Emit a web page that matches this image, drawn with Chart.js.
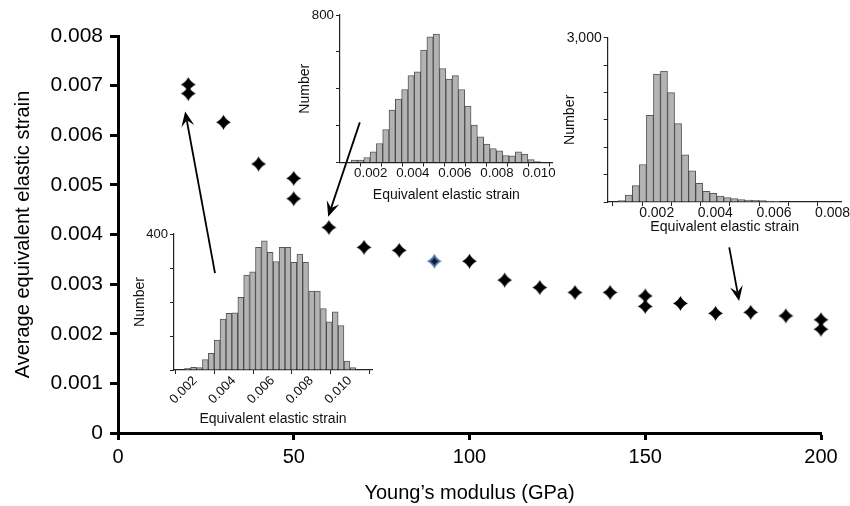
<!DOCTYPE html>
<html><head><meta charset="utf-8">
<script src="https://cdn.jsdelivr.net/npm/chart.js@4.4.1/dist/chart.umd.min.js"></script>
<style>
html,body{margin:0;padding:0;background:#fff;}
#wrap{position:relative;width:850px;height:506px;overflow:hidden;background:#fff;}
#wrap canvas{position:absolute;}
</style></head><body>
<div id="wrap">
<canvas id="main" width="850" height="506" style="left:0;top:0"></canvas>
<canvas id="h1" width="260" height="225" style="left:125px;top:210px"></canvas>
<canvas id="h2" width="275" height="205" style="left:290px;top:0"></canvas>
<canvas id="h3" width="305" height="240" style="left:555px;top:0"></canvas>
</div>
<script>
// ---- main scatter data ----
const modulus = [20,20,30,40,50,50,60,70,80,100,110,120,130,140,150,150,160,170,180,190,200,200];
const strain  = [0.00702,0.00684,0.00626,0.00542,0.00513,0.00472,0.00414,0.00374,0.00368,0.00346,0.00308,0.00293,0.00283,0.00283,0.00276,0.00255,0.00261,0.00241,0.00243,0.00236,0.00228,0.00209];
const highlightModulus = [90];
const highlightStrain  = [0.00346];
const xTickStep = 50;
const yTickStep = 0.001;

// ---- inset histograms ----
const hist1Centers = [0.00161,0.00192,0.00222,0.00253,0.00283,0.00314,0.00344,0.00375,0.00405,0.00436,0.00466,0.00497,0.00527,0.00558,0.00588,0.00619,0.00649,0.00680,0.00710,0.00741,0.00771,0.00802,0.00832,0.00863,0.00893,0.00924,0.00954,0.00985,0.01015];
const hist1Counts  = [5,8,7,31,49,88,150,167,168,214,279,289,361,380,346,319,361,361,317,341,317,232,232,181,142,171,131,26,7];
const hist1XTicks = [0.002,0.004,0.006,0.008,0.010];
const hist1YTicks = [0,100,200,300,400];

const hist2Centers = [0.00122,0.00152,0.00182,0.00212,0.00242,0.00272,0.00302,0.00332,0.00362,0.00392,0.00422,0.00452,0.00482,0.00512,0.00542,0.00572,0.00602,0.00632,0.00662,0.00692,0.00722,0.00752,0.00782,0.00812,0.00842,0.00872,0.00902,0.00932,0.00962,0.00992];
const hist2Counts  = [13,13,27,58,103,179,284,344,396,472,492,610,682,697,510,452,471,396,306,203,139,100,76,63,38,36,58,45,16,5];
const hist2XTicks = [0.001,0.002,0.003,0.004,0.005,0.006,0.007,0.008,0.009,0.010];
const hist2YTicks = [0,200,400,600,800];

const hist3Centers = [0.00081,0.00105,0.00129,0.00153,0.00177,0.00201,0.00225,0.00249,0.00273,0.00297,0.00321,0.00345,0.00369,0.00393,0.00417,0.00441,0.00465,0.00489,0.00513,0.00537,0.00561,0.00585,0.00609];
const hist3Counts  = [24,128,300,684,1582,2334,2389,1998,1430,861,568,342,196,159,110,79,61,43,37,31,24,18,12];
const hist3XTicks = [0.001,0.002,0.003,0.004,0.005,0.006,0.007,0.008];
const hist3YTicks = [0,500,1000,1500,2000,2500,3000];

// arrows in main-chart data units: [tailX, tailY, tipX, tipY]
const arrows = [
  [27.6, 0.00322, 19.1, 0.00648],
  [68.8, 0.00626, 59.8, 0.00436],
  [173.9, 0.00374, 176.7, 0.00266]
];

const FONT = "'Liberation Sans', Arial, Helvetica, sans-serif";

function starImage(fill, inner){
  const s = 17, c = document.createElement('canvas');
  c.width = s; c.height = s;
  const g = c.getContext('2d');
  const m = s/2, r = 7.4, k = 2.4;
  const path = (rr, kk) => {
    g.beginPath();
    g.moveTo(m, m-rr);
    g.quadraticCurveTo(m+kk, m-kk, m+rr, m);
    g.quadraticCurveTo(m+kk, m+kk, m, m+rr);
    g.quadraticCurveTo(m-kk, m+kk, m-rr, m);
    g.quadraticCurveTo(m-kk, m-kk, m, m-rr);
    g.closePath();
  };
  path(r, k); g.fillStyle = fill; g.fill();
  if (inner){ path(4, 1.4); g.fillStyle = inner; g.fill(); }
  return c;
}
const blackStar = starImage('#000');
const blueStar = starImage('#4f75b8', '#141a28');

const arrowPlugin = {
  id: 'arrows',
  afterDatasetsDraw(chart){
    const {ctx, scales:{x, y}} = chart;
    ctx.save();
    ctx.strokeStyle = '#000'; ctx.fillStyle = '#000'; ctx.lineWidth = 1.8;
    arrows.forEach(a => {
      const x1 = x.getPixelForValue(a[0]), y1 = y.getPixelForValue(a[1]);
      const x2 = x.getPixelForValue(a[2]), y2 = y.getPixelForValue(a[3]);
      const ang = Math.atan2(y2-y1, x2-x1);
      const L = 15, W = 6.5, N = 9;
      const ux = Math.cos(ang), uy = Math.sin(ang);
      const nx = x2 - ux*N, ny = y2 - uy*N;
      ctx.beginPath(); ctx.moveTo(x1, y1); ctx.lineTo(nx, ny); ctx.stroke();
      ctx.beginPath();
      ctx.moveTo(x2, y2);
      ctx.lineTo(x2 - ux*L - uy*W, y2 - uy*L + ux*W);
      ctx.lineTo(nx, ny);
      ctx.lineTo(x2 - ux*L + uy*W, y2 - uy*L - ux*W);
      ctx.closePath(); ctx.fill();
    });
    ctx.restore();
  }
};

new Chart(document.getElementById('main'), {
  type: 'scatter',
  data: { datasets: [
    { data: modulus.map((v,i)=>({x:v, y:strain[i]})), pointStyle: blackStar, pointRadius: 8, pointHoverRadius: 8, clip: false },
    { data: highlightModulus.map((v,i)=>({x:v, y:highlightStrain[i]})), pointStyle: blueStar, pointRadius: 8, pointHoverRadius: 8, clip: false }
  ]},
  options: {
    responsive: false, animation: false, devicePixelRatio: 1,
    layout: { padding: { left: 0, top: 36, right: 29, bottom: 0 } },
    plugins: { legend: { display: false }, tooltip: { enabled: false } },
    scales: {
      x: {
        type: 'linear', min: 0, max: 200,
        ticks: { stepSize: xTickStep, color: '#000', font: { family: FONT, size: 20 }, padding: 5 },
        grid: { drawOnChartArea: false, drawTicks: true, tickLength: 7, tickWidth: 3, tickColor: '#000' },
        border: { display: true, color: '#000', width: 3 },
        title: { display: true, text: 'Young\u2019s modulus (GPa)', color: '#000', font: { family: FONT, size: 20 }, padding: { top: 0, bottom: 1 } },
        afterFit(s){ s.height = 73; }
      },
      y: {
        type: 'linear', min: 0, max: 0.008,
        ticks: { stepSize: yTickStep, color: '#000', font: { family: FONT, size: 21 }, padding: 7,
                 callback: v => Math.abs(v) < 1e-9 ? '0' : v.toFixed(3) },
        grid: { drawOnChartArea: false, drawTicks: true, tickLength: 8, tickWidth: 3, tickColor: '#000' },
        border: { display: true, color: '#000', width: 3 },
        title: { display: true, text: 'Average equivalent elastic strain', color: '#000', font: { family: FONT, size: 20 }, padding: { top: 11, bottom: 0 } },
        afterFit(s){ s.width = 118; }
      }
    }
  },
  plugins: [arrowPlugin]
});

function hist(id, centers, counts, o){
  return new Chart(document.getElementById(id), {
    type: 'bar',
    data: { datasets: [{
      data: centers.map((v,i)=>({x:v, y:counts[i]})),
      backgroundColor: '#b3b3b3', borderColor: 'rgba(45,45,45,0.8)', borderWidth: 1, borderSkipped: 'bottom',
      categoryPercentage: 1, barPercentage: 1, grouped: false
    }]},
    options: {
      responsive: false, animation: false, devicePixelRatio: 1,
      layout: { padding: o.pad },
      plugins: { legend: { display: false }, tooltip: { enabled: false } },
      scales: {
        x: {
          type: 'linear', min: o.xmin, max: o.xmax, offset: false,
          afterBuildTicks(s){ s.ticks = o.xticks.map(v=>({value:v})); },
          ticks: { autoSkip: false, minRotation: o.rot, maxRotation: o.rot, color: '#111',
                   font: { family: FONT, size: o.tf, lineHeight: 1 }, padding: o.tpad,
                   callback: v => (Math.round(v*1000) % 2 === 0) ? v.toFixed(3) : '' },
          grid: { drawOnChartArea: false, drawTicks: true, tickLength: 4, tickWidth: 1, tickColor: '#222' },
          border: { display: true, color: '#222', width: 1.2 },
          title: { display: true, text: 'Equivalent elastic strain', color: '#111', font: { family: FONT, size: o.ttf }, padding: { top: 0, bottom: o.titleB } },
          afterFit(s){ s.height = o.xh; }
        },
        y: {
          type: 'linear', min: 0, max: o.ymax,
          afterBuildTicks(s){ s.ticks = o.yticks.map(v=>({value:v})); },
          ticks: { autoSkip: false, color: '#111', font: { family: FONT, size: o.tf }, padding: 2,
                   callback: v => v === o.ymax ? o.ylabel : '' },
          grid: { drawOnChartArea: false, drawTicks: true, tickLength: 4, tickWidth: 1, tickColor: '#222' },
          border: { display: true, color: '#222', width: 1.2 },
          title: { display: true, text: 'Number', color: '#111', font: { family: FONT, size: o.ttf }, padding: { top: o.titleT, bottom: 0 } },
          afterFit(s){ s.width = o.yw; }
        }
      }
    }
  });
}

hist('h1', hist1Centers, hist1Counts, {
  pad: { left: 0, top: 24, right: 13, bottom: 0 }, xmin: 0.00091, xmax: 0.01114,
  xticks: hist1XTicks, yticks: hist1YTicks, ymax: 400, ylabel: '400',
  rot: 45, tf: 13, ttf: 14, tpad: 0, titleB: 7.6, titleT: 6.6, xh: 65, yw: 49
});
hist('h2', hist2Centers, hist2Counts, {
  pad: { left: 0, top: 15, right: 12.3, bottom: 0 }, xmin: 0.00054, xmax: 0.01065,
  xticks: hist2XTicks, yticks: hist2YTicks, ymax: 800, ylabel: '800',
  rot: 0, tf: 13.3, ttf: 14, tpad: 0, titleB: 1.6, titleT: 6.6, xh: 42.5, yw: 50
});
hist('h3', hist3Centers, hist3Counts, {
  pad: { left: 0, top: 37.7, right: 18.3, bottom: 0 }, xmin: 0.00033, xmax: 0.00831,
  xticks: hist3XTicks, yticks: hist3YTicks, ymax: 3000, ylabel: '3,000',
  rot: 0, tf: 14, ttf: 14.2, tpad: 0, titleB: 4.6, titleT: 6.6, xh: 38, yw: 52.7
});
</script>
</body></html>
